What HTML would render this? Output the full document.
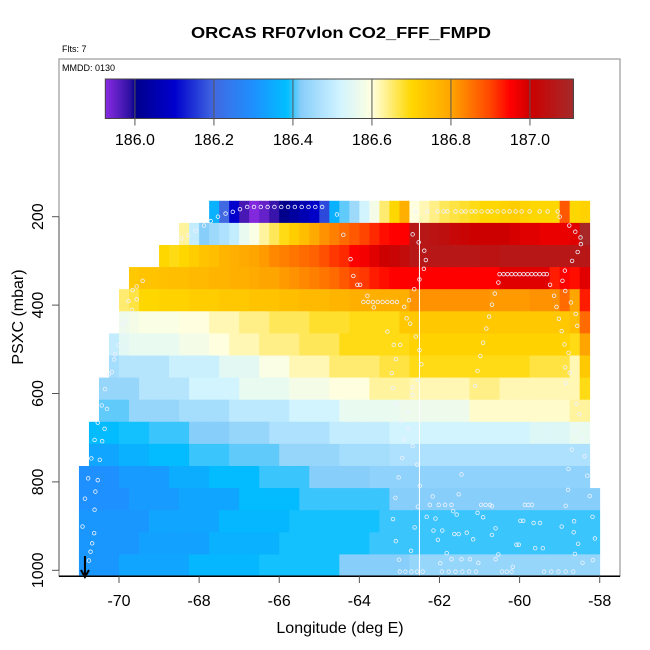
<!DOCTYPE html>
<html><head><meta charset="utf-8"><style>
html,body{margin:0;padding:0;background:#fff;}
svg{display:block;font-family:"Liberation Sans",Arial,sans-serif;}
</style></head>
<body>
<svg id="chart" width="650" height="650" viewBox="0 0 650 650" xmlns="http://www.w3.org/2000/svg">
<rect x="0" y="0" width="650" height="650" fill="#fff"/>
<text x="341" y="38" font-size="16" font-weight="bold" text-anchor="middle" textLength="300" lengthAdjust="spacingAndGlyphs">ORCAS RF07vlon CO2_FFF_FMPD</text>
<text x="62" y="52" font-size="9">Flts: 7</text>
<text x="62" y="71" font-size="9">MMDD: 0130</text>
<g id="heat"></g>
<g id="track"></g>
<g id="cbar"></g>
<g id="axes"></g>
<text x="340" y="633" font-size="16" text-anchor="middle">Longitude (deg E)</text>
<text transform="translate(23,317) rotate(-90)" font-size="16" text-anchor="middle">PSXC (mbar)</text>
</svg>
<script>
const xTicks = [-70, -68, -66, -64, -62, -60, -58];
const yTicks = [200, 400, 600, 800, 1000];
const cbarTicks = [186.0, 186.2, 186.4, 186.6, 186.8, 187.0];
const cbarMin = 185.925, cbarMax = 187.11;
const binCenters = [189,239,289,339,389,439,489,539,589,639,689,739,789,839,889,939,989];
const binHeight = 50;
const cellWidth = 0.25;
const rowStartLon = [-67.75,-68.5,-69,-69.75,-70,-70,-70.25,-70.25,-70.5,-70.5,-70.75,-70.75,-71,-71,-71,-71,-71];
const row0 = [186.36,186.2,186.1,185.97,185.93,185.95,185.98,186.0,186.03,186.06,186.09,186.17,186.36,186.41,186.45,186.52,186.58,186.65,186.7,186.78,186.6,186.62,186.64,186.66,186.67,186.68,186.69,186.7,186.7,186.71,186.72,186.71,186.7,186.7,186.7,186.88,186.7,186.71];
const row1 = [186.63,186.5,186.42,186.45,186.47,186.5,186.56,186.59,186.63,186.66,186.69,186.72,186.75,186.79,186.82,186.84,186.86,186.88,186.9,186.92,186.94,186.95,186.95,187.06,187.06,187.05,187.04,187.02,187.01,187.0,187.0,187.0,187.0,186.99,186.98,186.98,186.97,186.97,186.97,186.98,187.1];
const row2 = [186.7,186.69,186.7,186.72,186.74,186.75,186.77,186.78,186.79,186.8,186.81,186.83,186.84,186.85,186.86,186.87,186.89,186.91,186.92,186.95,186.96,186.98,187.0,187.01,187.03,187.06,187.06,187.06,187.06,187.06,187.06,187.06,187.05,187.05,187.06,187.06,187.06,187.06,187.06,187.06,187.06,187.06,187.06];
const row3 = [186.73,186.74,186.74,186.745,186.75,186.75,186.76,186.76,186.77,186.77,186.78,186.78,186.79,186.8,186.8,186.81,186.82,186.83,186.84,186.85,186.86,186.88,186.9,186.91,186.93,186.94,186.95,186.95,186.95,186.95,186.95,186.95,186.95,186.95,186.95,186.95,186.95,186.98,186.98,186.98,186.98,186.98,186.93,186.95,186.94,186.98];
const row4 = [186.65,186.67,186.7,186.7,186.71,186.71,186.71,186.72,186.72,186.72,186.73,186.73,186.73,186.74,186.74,186.74,186.75,186.75,186.76,186.76,186.76,186.77,186.77,186.78,186.78,186.78,186.78,186.78,186.78,186.82,186.82,186.82,186.82,186.82,186.82,186.82,186.82,186.81,186.81,186.81,186.81,186.82,186.82,186.82,186.86,186.8,186.93];
const row5 = [186.57,186.58,186.59,186.59,186.59,186.59,186.6,186.6,186.6,186.62,186.62,186.62,186.64,186.64,186.64,186.66,186.66,186.66,186.66,186.68,186.68,186.68,186.68,186.69,186.69,186.69,186.69,186.69,186.73,186.73,186.73,186.73,186.73,186.73,186.73,186.73,186.73,186.73,186.73,186.73,186.73,186.73,186.73,186.73,186.73,186.75,186.86];
const row6 = [186.5,186.55,186.56,186.56,186.56,186.56,186.56,186.58,186.58,186.58,186.6,186.6,186.62,186.62,186.62,186.64,186.64,186.64,186.64,186.66,186.66,186.66,186.66,186.69,186.69,186.69,186.69,186.69,186.69,186.69,186.71,186.71,186.71,186.71,186.71,186.71,186.71,186.71,186.71,186.71,186.71,186.71,186.71,186.71,186.71,186.71,186.69,186.8];
const row7 = [186.46,186.48,186.48,186.48,186.48,186.48,186.51,186.51,186.51,186.51,186.51,186.55,186.55,186.55,186.55,186.59,186.59,186.59,186.62,186.62,186.62,186.62,186.65,186.65,186.65,186.65,186.65,186.67,186.67,186.67,186.69,186.69,186.69,186.69,186.69,186.69,186.69,186.69,186.69,186.69,186.69,186.69,186.67,186.67,186.67,186.67,186.62,186.73];
const row8 = [186.44,186.44,186.44,186.44,186.48,186.48,186.48,186.48,186.48,186.52,186.52,186.52,186.52,186.52,186.56,186.56,186.56,186.56,186.56,186.58,186.58,186.58,186.58,186.6,186.6,186.6,186.6,186.63,186.63,186.63,186.63,186.62,186.62,186.62,186.62,186.62,186.62,186.64,186.64,186.64,186.62,186.62,186.62,186.62,186.62,186.62,186.62,186.62,186.69];
const row9 = [186.41,186.41,186.41,186.44,186.44,186.44,186.44,186.44,186.46,186.46,186.46,186.46,186.46,186.49,186.49,186.49,186.49,186.49,186.49,186.52,186.52,186.52,186.52,186.52,186.56,186.56,186.56,186.56,186.56,186.56,186.57,186.57,186.57,186.57,186.57,186.57,186.57,186.61,186.61,186.61,186.61,186.61,186.61,186.61,186.61,186.61,186.61,186.63,186.63];
const row10 = [186.38,186.38,186.38,186.39,186.39,186.39,186.4,186.4,186.4,186.4,186.42,186.42,186.42,186.42,186.44,186.44,186.44,186.44,186.47,186.47,186.47,186.47,186.47,186.47,186.5,186.5,186.5,186.5,186.5,186.5,186.52,186.52,186.52,186.52,186.52,186.52,186.52,186.52,186.52,186.52,186.52,186.52,186.52,186.52,186.54,186.54,186.54,186.54,186.56,186.56];
const row11 = [186.34,186.34,186.34,186.36,186.36,186.36,186.38,186.38,186.38,186.38,186.4,186.4,186.4,186.4,186.41,186.41,186.41,186.41,186.41,186.44,186.44,186.44,186.44,186.44,186.44,186.46,186.46,186.46,186.46,186.46,186.47,186.47,186.47,186.47,186.47,186.47,186.47,186.47,186.47,186.47,186.47,186.47,186.47,186.47,186.47,186.47,186.47,186.47,186.47,186.47];
const row12 = [186.3,186.3,186.3,186.3,186.32,186.32,186.32,186.32,186.32,186.35,186.35,186.35,186.35,186.38,186.38,186.38,186.38,186.38,186.4,186.4,186.4,186.4,186.4,186.42,186.42,186.42,186.42,186.42,186.42,186.43,186.43,186.43,186.43,186.43,186.43,186.43,186.43,186.43,186.43,186.43,186.43,186.43,186.43,186.43,186.43,186.43,186.43,186.43,186.43,186.43,186.43];
const row13 = [186.3,186.3,186.3,186.3,186.3,186.32,186.32,186.32,186.32,186.32,186.34,186.34,186.34,186.34,186.34,186.34,186.38,186.38,186.38,186.38,186.38,186.38,186.4,186.4,186.4,186.4,186.4,186.4,186.4,186.4,186.4,186.42,186.42,186.42,186.42,186.42,186.42,186.42,186.42,186.42,186.42,186.42,186.42,186.42,186.42,186.42,186.42,186.42,186.42,186.42,186.42,186.42];
const row14 = [186.31,186.31,186.31,186.31,186.31,186.31,186.31,186.34,186.34,186.34,186.34,186.34,186.34,186.34,186.37,186.37,186.37,186.37,186.37,186.37,186.37,186.39,186.39,186.39,186.39,186.39,186.39,186.39,186.39,186.39,186.4,186.4,186.4,186.4,186.4,186.4,186.4,186.4,186.4,186.4,186.4,186.4,186.4,186.4,186.4,186.4,186.4,186.4,186.4,186.4,186.4,186.4];
const row15 = [186.31,186.31,186.31,186.31,186.31,186.31,186.33,186.33,186.33,186.33,186.33,186.33,186.33,186.36,186.36,186.36,186.36,186.36,186.36,186.36,186.39,186.39,186.39,186.39,186.39,186.39,186.39,186.39,186.39,186.4,186.4,186.4,186.4,186.4,186.4,186.4,186.4,186.4,186.4,186.4,186.4,186.4,186.4,186.4,186.4,186.4,186.4,186.4,186.4,186.4,186.4,186.4];
const row16 = [186.31,186.31,186.31,186.31,186.34,186.34,186.34,186.34,186.34,186.34,186.34,186.37,186.37,186.37,186.37,186.37,186.37,186.37,186.39,186.39,186.39,186.39,186.39,186.39,186.39,186.39,186.42,186.42,186.42,186.42,186.42,186.42,186.42,186.44,186.44,186.44,186.44,186.44,186.44,186.44,186.44,186.44,186.44,186.44,186.44,186.44,186.44,186.44,186.44,186.44,186.44,186.44];
const gridRows = [row0,row1,row2,row3,row4,row5,row6,row7,row8,row9,row10,row11,row12,row13,row14,row15,row16];
const trackLon = [-68.44,-68.27,-68.09,-67.88,-67.71,-67.53,-67.34,-67.16,-66.98,-66.8,-66.63,-66.46,-66.29,-66.12,-65.95,-65.78,-65.61,-65.44,-65.27,-65.1,-64.93,-64.56,-64.4,-64.22,-64.15,-64.05,-63.98,-63.8,-63.9,-63.78,-63.66,-63.54,-63.42,-63.3,-63.18,-63.06,-63.64,-63.3,-63.14,-62.98,-63.09,-63.19,-63.16,-62.67,-62.67,-63.07,-62.78,-62.97,-62.78,-62.88,-62.67,-62.93,-62.56,-63.02,-62.49,-63.1,-62.54,-63.16,-62.62,-63.09,-62.71,-63.01,-62.99,-62.85,-62.7,-62.56,-62.42,-61.94,-61.77,-61.6,-61.43,-61.26,-61.09,-60.44,-60.32,-60.2,-59.39,-59.21,-59.03,-58.85,-58.66,-62.67,-62.52,-62.38,-62.34,-62.39,-62.5,-62.63,-62.76,-62.88,-62.82,-62.73,-62.59,-62.5,-62.45,-62.54,-62.6,-62.3,-62.05,-61.9,-61.8,-61.6,-61.45,-61.35,-61.2,-61.1,-60.95,-60.8,-60.7,-60.55,-60.4,-60.25,-60.1,-59.95,-59.75,-59.5,-59.3,-59.05,-61.11,-61.05,-60.98,-60.91,-60.83,-60.76,-60.69,-60.62,-60.53,-60.5,-60.4,-60.3,-60.2,-60.1,-60.0,-59.9,-59.8,-59.7,-59.6,-59.5,-59.4,-59.32,-59.24,-59.0,-58.76,-58.61,-58.48,-58.47,-58.55,-58.69,-58.87,-58.93,-58.86,-59.14,-59.08,-58.72,-58.6,-58.56,-59.02,-58.95,-58.88,-58.78,-58.86,-58.75,-58.85,-58.58,-58.51,-58.61,-58.45,-58.7,-58.38,-58.78,-58.31,-58.79,-58.25,-58.85,-58.18,-58.64,-58.95,-58.65,-58.12,-58.54,-58.62,-58.43,-58.17,-69.41,-69.56,-69.66,-69.76,-69.56,-69.68,-69.85,-69.93,-69.9,-70.01,-70.1,-70.12,-70.18,-70.25,-70.35,-70.43,-70.3,-70.53,-70.36,-70.61,-70.42,-70.69,-70.48,-70.77,-70.53,-70.59,-70.85,-70.61,-70.91,-70.62,-70.67,-70.71,-70.75,-62.17,-62.24,-62.02,-61.86,-61.7,-61.52,-61.45,-62.32,-62.1,-61.66,-61.57,-62.15,-61.93,-62.04,-61.63,-61.52,-61.82,-61.98,-61.7,-61.45,-61.24,-61.03,-61.32,-61.16,-61.05,-60.91,-60.69,-60.96,-60.85,-60.74,-60.08,-60.02,-59.61,-59.42,-59.98,-59.91,-59.65,-59.49,-59.87,-59.78,-59.69,-60.69,-60.6,-60.53,-60.6,-60.17];
const trackP = [249,242,232,220,210,200,193,189,183,178,178,178,178,178,178,178,178,178,178,178,178,195,241,296,334,354,354,379,393,393,393,393,393,393,393,393,405,460,490,490,522,554,588,586,603,624,642,662,680,703,719,746,761,790,809,836,856,884,903,934,956,976,1003,1003,1003,1003,1003,1003,1003,1003,1003,1003,1003,1003,1003,1003,1003,1003,1003,1003,1003,240,258,277,298,318,342,364,389,404,430,442,471,502,534,569,188,188,188,188,188,188,188,188,188,188,188,188,188,188,188,188,188,188,188,188,188,188,583,549,515,485,453,426,399,374,349,330,330,330,330,330,330,330,330,330,330,330,330,330,354,200,220,234,247,262,280,300,322,345,368,379,404,394,420,447,431,459,489,508,541,553,576,623,647,686,701,727,742,771,786,818,832,854,879,889,901,914,928,940,963,983,977,345,358,366,391,387,411,436,444,464,491,511,523,551,556,590,627,635,666,680,705,708,747,750,792,796,822,838,863,901,916,939,958,978,833,852,852,852,852,828,783,879,883,866,874,910,910,931,918,918,961,984,975,975,975,983,915,930,870,880,855,852,852,852,942,942,950,950,888,888,893,893,852,852,852,920,905,964,975,992];
const refLon = -62.5, refTopP = 212, refBotP = 1014;
const arrowLon = -70.85;

const NS = "http://www.w3.org/2000/svg";
function xs(lon){ return 119 + (lon + 70) * 40.06; }
function ys(p){ return 216.7 + (p - 200) * 0.442; }
const cbX0 = 105.3, cbX1 = 573.4, cbY0 = 79, cbY1 = 118.5;
function cbx(v){ return cbX0 + (v - cbarMin) / (cbarMax - cbarMin) * (cbX1 - cbX0); }
const stops = [[185.925,[138,43,226]],[185.99,[42,16,160]],[186.0,[0,0,139]],[186.1,[0,0,205]],[186.2,[65,105,225]],[186.3,[30,144,255]],[186.385,[0,191,255]],[186.42,[135,206,250]],[186.52,[210,244,255]],[186.6,[255,255,224]],[186.7,[255,215,0]],[186.8,[255,165,0]],[186.9,[255,69,0]],[186.95,[255,0,0]],[187.0,[205,0,0]],[187.11,[165,42,42]]];
function color(v){
  if (v <= stops[0][0]) return rgb(stops[0][1]);
  for (let i = 1; i < stops.length; i++) {
    if (v <= stops[i][0]) {
      const a = stops[i-1], b = stops[i], t = (v - a[0]) / (b[0] - a[0]);
      return rgb(a[1].map((c, k) => c + (b[1][k] - c) * t));
    }
  }
  return rgb(stops[stops.length-1][1]);
}
function rgb(c){ return "rgb(" + c.map(Math.round).join(",") + ")"; }
function mk(tag, attrs, parent){ const e = document.createElementNS(NS, tag); for (const k in attrs) e.setAttribute(k, attrs[k]); parent.appendChild(e); return e; }

// heatmap
const heat = document.getElementById("heat");
gridRows.forEach((row, r) => {
  const pTop = binCenters[r] - binHeight / 2, pBot = binCenters[r] + binHeight / 2;
  row.forEach((v, c) => {
    const l0 = rowStartLon[r] + c * cellWidth;
    const rect = mk("rect", {x: xs(l0), y: ys(pTop), width: xs(l0 + cellWidth) - xs(l0) + 0.4, height: ys(pBot) - ys(pTop) + 0.4, fill: color(v)}, heat);
    
    
  });
});
// reference line
const track = document.getElementById("track");
const rl = mk("line", {x1: xs(refLon), x2: xs(refLon), y1: ys(refTopP), y2: ys(refBotP), stroke: "#fff", "stroke-width": 1}, track);


trackLon.forEach((lon, i) => {
  const c = mk("circle", {cx: xs(lon), cy: ys(trackP[i]), r: 1.8, fill: "none", stroke: "#eef2ff", "stroke-width": 0.8}, track);
  
  
});
// arrow
const ax = xs(arrowLon);
const ar = mk("path", {d: `M${ax},556 L${ax},576 M${ax-4},570 L${ax},577 L${ax+4},570`, stroke: "#000", "stroke-width": 2, fill: "none"}, track);



// colorbar
const cbar = document.getElementById("cbar");
const N = 240;
for (let i = 0; i < N; i++) {
  const v0 = cbarMin + (cbarMax - cbarMin) * i / N, v1 = cbarMin + (cbarMax - cbarMin) * (i + 1) / N;
  const r = mk("rect", {x: cbx(v0), y: cbY0, width: cbx(v1) - cbx(v0) + 0.5, height: cbY1 - cbY0, fill: color((v0 + v1) / 2)}, cbar);
  
  
}
const cbBorder = mk("rect", {x: cbX0, y: cbY0, width: cbX1 - cbX0, height: cbY1 - cbY0, fill: "none", stroke: "#444", "stroke-width": 1}, cbar);


cbarTicks.forEach(v => {
  const x = cbx(v);
  const ln = mk("line", {x1: x, x2: x, y1: cbY0, y2: cbY1 + 7, stroke: "#555", "stroke-width": 1}, cbar);
  
  
  const t = mk("text", {x: x, y: 145, "font-size": 16, "text-anchor": "middle"}, cbar);
  t.textContent = v.toFixed(1);
  
  
});

// axes
const axes = document.getElementById("axes");
const frame = mk("rect", {x: 59, y: 59, width: 561, height: 517, fill: "none", stroke: "#999", "stroke-width": 1.2}, axes);


const xl = mk("line", {x1: 59, x2: 620, y1: 576.3, y2: 576.3, stroke: "#000", "stroke-width": 1.5}, axes);


const yl = mk("line", {x1: 59, x2: 59, y1: ys(yTicks[0]), y2: ys(yTicks[yTicks.length-1]), stroke: "#777", "stroke-width": 1.2}, axes);


xTicks.forEach(v => {
  const x = xs(v);
  const tk = mk("line", {x1: x, x2: x, y1: 576.3, y2: 583, stroke: "#555", "stroke-width": 1}, axes);
  
  
  const t = mk("text", {x: x, y: 606, "font-size": 16, "text-anchor": "middle"}, axes);
  t.textContent = v;
  
  
});
yTicks.forEach(v => {
  const y = ys(v);
  const tk = mk("line", {x1: 52, x2: 59, y1: y, y2: y, stroke: "#555", "stroke-width": 1}, axes);
  
  
  const t = mk("text", {transform: `translate(43,${y}) rotate(-90)`, "font-size": 16, "text-anchor": "middle"}, axes);
  t.textContent = v;
  
  
});
</script>
</body></html>
